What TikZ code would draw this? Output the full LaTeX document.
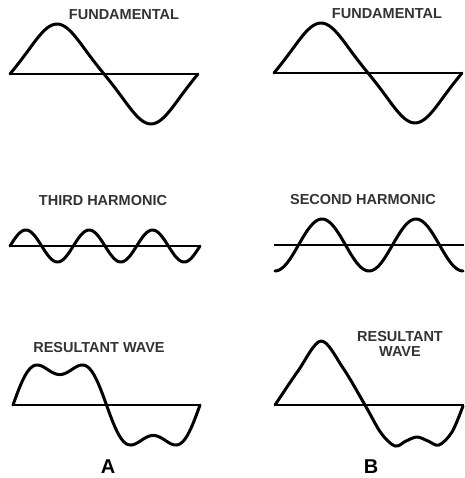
\documentclass[tikz,border=0pt]{standalone}
\usepackage{fontspec}
\setmainfont{Liberation Sans}
\begin{document}
\begin{tikzpicture}[x=1pt, y=-1pt,
        wave/.style={line width=3pt, line join=round, line cap=round},
        axis/.style={line width=1.3pt},
        lbl/.style={font=\fontsize{14.5}{15}\selectfont\bfseries, inner sep=0pt, text=black!80},
        tag/.style={font=\fontsize{20}{22}\selectfont\bfseries, inner sep=0pt}]
        \useasboundingbox (0,0) rectangle (464,478);

        % Column A: fundamental
        \node[lbl] (fundA) at (124,15) {FUNDAMENTAL};
        \coordinate (axA1) at (10,74);
        \coordinate (axA2) at (198,74);
        \draw[axis] (axA1) -- (axA2);
        \draw[wave] plot[domain=0:360, samples=90, variable=\t]
            ({10+\t/360*188}, {74-46.7*(sin(\t)-0.07*sin(3*\t))});

        % Column A: third harmonic
        \node[lbl] (thirdA) at (103,201) {THIRD HARMONIC};
        \coordinate (axB1) at (10,246);
        \coordinate (axB2) at (200,246);
        \draw[axis] (axB1) -- (axB2);
        \draw[wave] plot[domain=10:200, samples=120, variable=\t] (\t, {246-16*sin((\t-10)/190*1080)});

        % Column A: resultant (fundamental + third)
        \node[lbl] (resA) at (99,348) {RESULTANT WAVE};
        \coordinate (axC1) at (13,405);
        \coordinate (axC2) at (200,405);
        \draw[axis] (axC1) -- (axC2);
        \draw[wave] plot[domain=0:360, samples=120, variable=\t]
            ({13+\t/360*187}, {405-43.5*(sin(\t)+0.3*sin(3*\t))});
        \node[tag] (tagA) at (108,467) {A};

        % Column B: fundamental
        \node[lbl] (fundB) at (387,14) {FUNDAMENTAL};
        \coordinate (axD1) at (274,73);
        \coordinate (axD2) at (462,73);
        \draw[axis] (axD1) -- (axD2);
        \draw[wave] plot[domain=0:360, samples=90, variable=\t]
            ({274+\t/360*188}, {73-46.7*(sin(\t)-0.07*sin(3*\t))});

        % Column B: second harmonic
        \node[lbl] (secondB) at (363,200) {SECOND HARMONIC};
        \coordinate (axE1) at (274,245);
        \coordinate (axE2) at (464,245);
        \draw[axis] (axE1) -- (axE2);
        \draw[wave] plot[domain=275:463, samples=100, variable=\t] (\t, {245+26*cos((\t-275)/188*720)});

        % Column B: resultant (fundamental + second)
        \node[lbl, align=center] (resB) at (400,344) {RESULTANT\\WAVE};
        \coordinate (axF1) at (275,405);
        \coordinate (axF2) at (464,405);
        \draw[axis] (axF1) -- (axF2);
        \draw[wave] plot[smooth, tension=0.55] coordinates {(275,405) (298,371) (321,341) (343,368)
            (365,405) (381,433) (395,446) (406,441) (417,437) (428,441) (439,445) (452,432) (463,406)};
        \node[tag] (tagB) at (371,467) {B};
    \end{tikzpicture}
\end{document}
